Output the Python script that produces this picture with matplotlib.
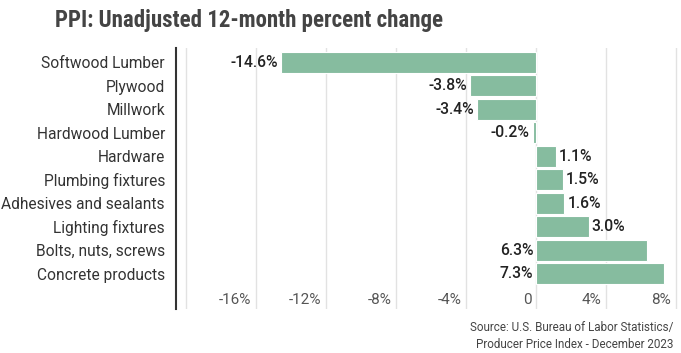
import matplotlib
matplotlib.use("Agg")
import matplotlib.pyplot as plt
import matplotlib.transforms as mtransforms

plt.rcParams['font.family'] = ['Roboto', 'DejaVu Sans']

categories = ["Softwood Lumber", "Plywood", "Millwork", "Hardwood Lumber", "Hardware",
              "Plumbing fixtures", "Adhesives and sealants", "Lighting fixtures",
              "Bolts, nuts, screws", "Concrete products"]
values = [-14.6, -3.8, -3.4, -0.2, 1.1, 1.5, 1.6, 3.0, 6.3, 7.3]
grid_ticks = [-20, -16, -12, -8, -4, 0, 4, 8]
tick_labels = ["", "-16%", "-12%", "-8%", "-4%", "0", "4%", "8%"]

bar_color = "#86bc9f"

fig = plt.figure(figsize=(6.81, 3.53), dpi=100)
ax = fig.add_axes([176 / 681, 1 - 309 / 353, 1 - 176 / 681, (309 - 48) / 353])

pos = list(range(len(categories)))
ax.barh(pos, values, height=0.9, color=bar_color, edgecolor="white", linewidth=0.8, zorder=3)

ax.set_xlim(-20.59, 8.27)
ax.set_ylim(10.5, -0.6)

ax.set_xticks(grid_ticks)
ax.set_xticklabels([])
ax.tick_params(axis="x", length=0)
ax.grid(axis="x", color="#e2e2e2", linewidth=1, zorder=0)

ax.set_yticks(pos)
ax.set_yticklabels(categories, fontsize=11.2, color="#333333")
ax.tick_params(axis="y", length=0, pad=8)

for s in ["top", "right", "bottom"]:
    ax.spines[s].set_visible(False)
ax.spines["left"].set_color("#333333")
ax.spines["left"].set_linewidth(1.5)

# x tick labels sit inside the plot, just left of each gridline
off_left = mtransforms.offset_copy(ax.transData, fig=fig, x=-5, y=0, units="dots")
for t, lab in zip(grid_ticks, tick_labels):
    if lab:
        ax.text(t, 10.1, lab, transform=off_left, ha="right", va="center",
                fontsize=11, color="#555555")

# value labels
off_right = mtransforms.offset_copy(ax.transData, fig=fig, x=3, y=0, units="dots")
off_l2 = mtransforms.offset_copy(ax.transData, fig=fig, x=-3, y=0, units="dots")
for p, v in zip(pos, values):
    lab = "%.1f%%" % v
    kw = dict(va="center", fontsize=11.3, fontweight="medium", color="#222222")
    if v < 0:
        ax.text(v, p, lab, transform=off_l2, ha="right", **kw)
    elif v > 5:
        ax.text(0, p, lab, transform=off_l2, ha="right", **kw)
    else:
        ax.text(v, p, lab, transform=off_right, ha="left", **kw)

fig.text(55 / 681, 1 - 21 / 353, "PPI: Unadjusted 12-month percent change", ha="left", va="center",
         fontsize=16.5, fontweight="bold", color="#444444", family=["Roboto Condensed", "Roboto"])
fig.text(673 / 681, 1 - 327 / 353, "Source: U.S. Bureau of Labor Statistics/", ha="right", va="center",
         fontsize=8.4, color="#444444")
fig.text(673 / 681, 1 - 345 / 353, "Producer Price Index - December 2023", ha="right", va="center",
         fontsize=8.4, color="#444444")

fig.savefig("out.png", dpi=100)
